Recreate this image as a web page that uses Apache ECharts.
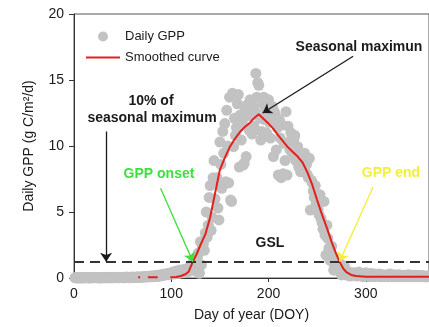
<!DOCTYPE html>
<html>
<head>
<meta charset="utf-8">
<script src="https://cdn.jsdelivr.net/npm/echarts@6/dist/echarts.min.js"></script>
<style>
  html, body { margin: 0; padding: 0; background: #fff; }
  #chart { width: 429px; height: 327px; }
</style>
</head>
<body>
<div id="chart"></div>
<script>
// Daily GPP (g C/m2/d), one value per day starting at DOY 1
const firstDay = 1;
const gppDaily = [
  0.02,0.01,0.03,0.00,0.02,0.04,0.01,0.02,0.00,0.03,
  0.02,0.05,0.01,0.03,0.02,0.00,0.04,0.02,0.01,0.03,
  0.05,0.02,0.03,0.01,0.04,0.02,0.00,0.03,0.05,0.02,
  0.03,0.01,0.04,0.02,0.06,0.03,0.01,0.02,0.05,0.03,
  0.02,0.04,0.06,0.03,0.01,0.05,0.02,0.04,0.03,0.06,
  0.04,0.02,0.05,0.07,0.03,0.04,0.06,0.02,0.05,0.08,
  0.04,0.06,0.03,0.07,0.05,0.09,0.06,0.04,0.08,0.10,
  0.06,0.09,0.12,0.07,0.10,0.14,0.08,0.11,0.15,0.09,
  0.13,0.17,0.10,0.16,0.20,0.12,0.18,0.22,0.15,0.25,
  0.19,0.28,0.22,0.30,0.24,0.33,0.27,0.36,0.30,0.40,
  0.34,0.45,0.30,0.50,0.38,0.55,0.42,0.35,0.60,0.48,
  0.52,0.40,0.65,0.58,0.45,0.70,0.62,0.50,0.85,0.75,
  0.90,0.60,1.30,1.10,0.80,0.50,1.60,1.90,0.36,2.75,
  1.00,2.30,2.60,2.10,3.40,5.00,3.10,4.00,6.10,7.00,
  3.60,4.60,7.60,8.90,6.00,7.40,7.60,5.30,4.40,10.30,
  8.60,6.80,11.10,9.45,11.70,7.30,12.70,10.00,7.20,13.70,
  5.90,5.80,14.00,9.95,12.10,10.80,11.40,13.20,13.90,8.40,
  12.35,10.45,11.80,8.56,8.70,12.90,9.20,13.10,12.30,11.20,
  13.50,12.80,10.90,13.00,11.50,12.60,15.50,13.70,14.80,14.60,
  12.10,10.45,11.10,13.20,13.70,12.00,12.70,11.00,12.90,13.50,
  11.80,10.60,12.20,13.00,9.20,12.60,12.35,9.70,11.40,7.80,
  12.00,10.60,7.60,11.60,7.90,10.20,8.90,12.60,7.80,11.50,
  10.30,9.70,11.00,10.10,9.30,10.50,10.80,8.90,9.60,9.95,
  8.40,9.20,8.05,8.70,9.00,8.30,9.45,8.00,8.60,7.80,
  7.60,9.07,5.15,7.40,7.20,6.60,6.10,7.00,5.60,6.00,
  5.20,4.80,6.30,4.50,4.20,3.70,5.80,3.25,1.74,4.00,
  3.00,2.25,1.36,1.74,2.40,1.20,0.60,1.50,0.60,1.00,
  1.40,0.80,1.10,0.50,0.23,0.70,0.40,0.90,0.30,0.55,
  0.20,0.45,0.35,0.15,0.40,0.30,0.25,0.40,0.20,0.35,
  0.15,0.30,0.45,0.20,0.25,0.35,0.10,0.30,0.20,0.40,
  0.15,0.25,0.30,0.10,0.20,0.35,0.15,0.25,0.10,0.30,
  0.20,0.15,0.25,0.30,0.10,0.20,0.15,0.25,0.10,0.20,
  0.15,0.25,0.10,0.20,0.30,0.15,0.10,0.20,0.25,0.10,
  0.15,0.20,0.10,0.25,0.15,0.10,0.20,0.15,0.10,0.20,
  0.15,0.10,0.20,0.25,0.10,0.15,0.20,0.10,0.15,0.20,
  0.10,0.15,0.10,0.20,0.15,0.10,0.12,0.18,0.10,0.15,
  0.12,0.08,0.15,0.10,0.12
];

// Smoothed seasonal curve (null = gap in the fitted record)
const curveDays = [
  66, 68, 69, 76, 86, 87,
  99, 105, 110, 115, 118, 122, 126, 130, 135, 140, 145, 150, 155, 160,
  165, 170, 175, 180, 185, 190, 195, 200, 205, 210, 215, 220, 225, 230,
  235, 240, 245, 250, 255, 260, 265, 270, 273, 277, 280, 285, 290, 300,
  320, 340, 365
];
const curveValues = [
  0.06, 0.06, null, 0.06, 0.06, null,
  0.05, 0.08, 0.15, 0.30, 0.50, 1.20, 1.80, 2.50, 3.30, 4.60, 6.40, 8.20, 9.10, 9.90,
  10.50, 11.00, 11.40, 11.70, 12.10, 12.40, 12.05, 11.70, 11.30, 10.80, 10.35, 9.90, 9.55, 9.20,
  8.75, 8.00, 7.05, 5.90, 4.80, 3.80, 2.70, 1.75, 1.24, 0.70, 0.45, 0.23, 0.15, 0.10,
  0.10, 0.10, 0.10
];

// Where the annotation arrows start, in data units [DOY, GPP]
const arrowTailThreshold = [33, 11.1];
const arrowTailPeak = [287, 16.8];
const arrowTailOnset = [89, 6.8];
const arrowTailEnd = [307.5, 6.9];

const FONT = '"Liberation Sans", Arial, Helvetica, sans-serif';
const INK = '#1a1a1a';
const GREEN = '#3de03d';
const YELLOW = '#f4ef3c';
const RED = '#e3201b';

// Seasonal statistics derived from the smoothed curve
const valid = curveValues.map((v, i) => [curveDays[i], v]).filter(p => p[1] != null);
const peakValue = Math.max(...valid.map(p => p[1]));
const peakDay = valid.find(p => p[1] === peakValue)[0];
const threshold = 0.1 * peakValue;

function crossing(rising) {
  const pts = valid.filter(p => p[0] >= 90);
  for (let i = 1; i < pts.length; i++) {
    const a = pts[i - 1], b = pts[i];
    const hit = rising ? (a[1] < threshold && b[1] >= threshold)
                       : (a[1] >= threshold && b[1] < threshold);
    if (hit) return a[0] + (threshold - a[1]) / (b[1] - a[1]) * (b[0] - a[0]);
  }
  return null;
}
const onsetDay = crossing(true);
const endDay = crossing(false);

const scatterData = gppDaily.map((v, i) => [firstDay + i, v]);
const curveData = curveDays.map((d, i) => [d, curveValues[i] == null ? '-' : curveValues[i]]);

const chart = echarts.init(document.getElementById('chart'), null, { renderer: 'canvas' });

function label(text, x, y, color) {
  return {
    type: 'text', x: x, y: y, z: 100,
    style: {
      text: text, fill: color || INK,
      fontFamily: FONT, fontSize: 14, fontWeight: 'bold',
      align: 'center', verticalAlign: 'middle'
    }
  };
}

chart.setOption({
  animation: false,
  backgroundColor: '#fff',
  textStyle: { fontFamily: FONT },
  grid: {
    left: 74, top: 14, width: 367, height: 264,
    show: true, borderColor: '#555', borderWidth: 1, backgroundColor: 'transparent'
  },
  legend: {
    orient: 'vertical', left: 81, top: 25,
    itemWidth: 34, itemHeight: 10, itemGap: 8,
    textStyle: { fontFamily: FONT, fontSize: 13, color: INK },
    data: [
      { name: 'Daily GPP', icon: 'circle' },
      { name: 'Smoothed curve', icon: 'path://M0,4L34,4L34,6L0,6Z', itemStyle: { color: RED } }
    ],
    selectedMode: false
  },
  xAxis: {
    type: 'value', min: 0, max: 365, interval: 100,
    name: 'Day of year (DOY)', nameLocation: 'middle', nameGap: 30,
    nameTextStyle: { fontFamily: FONT, fontSize: 14, color: INK },
    axisLine: { show: true, lineStyle: { color: '#333', width: 1 } },
    axisTick: { show: true, length: 4, lineStyle: { color: '#333' } },
    axisLabel: { fontFamily: FONT, fontSize: 14, color: INK, margin: 9, showMaxLabel: false },
    splitLine: { show: false }
  },
  yAxis: {
    type: 'value', min: 0, max: 20, interval: 5,
    name: 'Daily GPP (g C/m²/d)', nameLocation: 'middle', nameGap: 38,
    nameTextStyle: { fontFamily: FONT, fontSize: 14, color: INK },
    axisLine: { show: true, lineStyle: { color: '#333', width: 1 } },
    axisTick: { show: true, length: 5, lineStyle: { color: '#333' } },
    axisLabel: { fontFamily: FONT, fontSize: 14, color: INK, margin: 10 },
    splitLine: { show: false }
  },
  series: [
    {
      name: 'Daily GPP',
      type: 'scatter',
      data: scatterData,
      symbolSize: 11,
      itemStyle: { color: '#c2c2c2', opacity: 1 },
      clip: false,
      z: 2,
      markLine: {
        silent: true, symbol: ['none', 'none'],
        label: { show: false },
        lineStyle: { color: '#333', width: 2, type: [10, 6] },
        data: [{ yAxis: threshold }]
      }
    },
    {
      name: 'Smoothed curve',
      type: 'line',
      data: curveData,
      symbol: 'none',
      connectNulls: false,
      lineStyle: { color: RED, width: 2 },
      itemStyle: { color: RED },
      z: 3,
      markLine: {
        silent: true,
        symbol: ['none', 'arrow'],
        symbolSize: 9,
        label: { show: false },
        lineStyle: { width: 1.3, type: 'solid' },
        data: [
          [{ coord: arrowTailThreshold, lineStyle: { color: INK } },
           { coord: [arrowTailThreshold[0], threshold] }],
          [{ coord: arrowTailPeak, lineStyle: { color: INK } },
           { coord: [peakDay + 4, peakValue + 0.1] }],
          [{ coord: arrowTailOnset, lineStyle: { color: GREEN } },
           { coord: [onsetDay, threshold] }],
          [{ coord: arrowTailEnd, lineStyle: { color: YELLOW } },
           { coord: [endDay, threshold] }]
        ]
      }
    }
  ],
  graphic: [
    label('10% of', 151, 101),
    label('seasonal maximum', 152, 118),
    label('Seasonal maximun', 359, 47),
    label('GPP onset', 159, 174, GREEN),
    label('GPP end', 391, 173, YELLOW),
    label('GSL', 270, 243)
  ]
});
</script>
</body>
</html>
